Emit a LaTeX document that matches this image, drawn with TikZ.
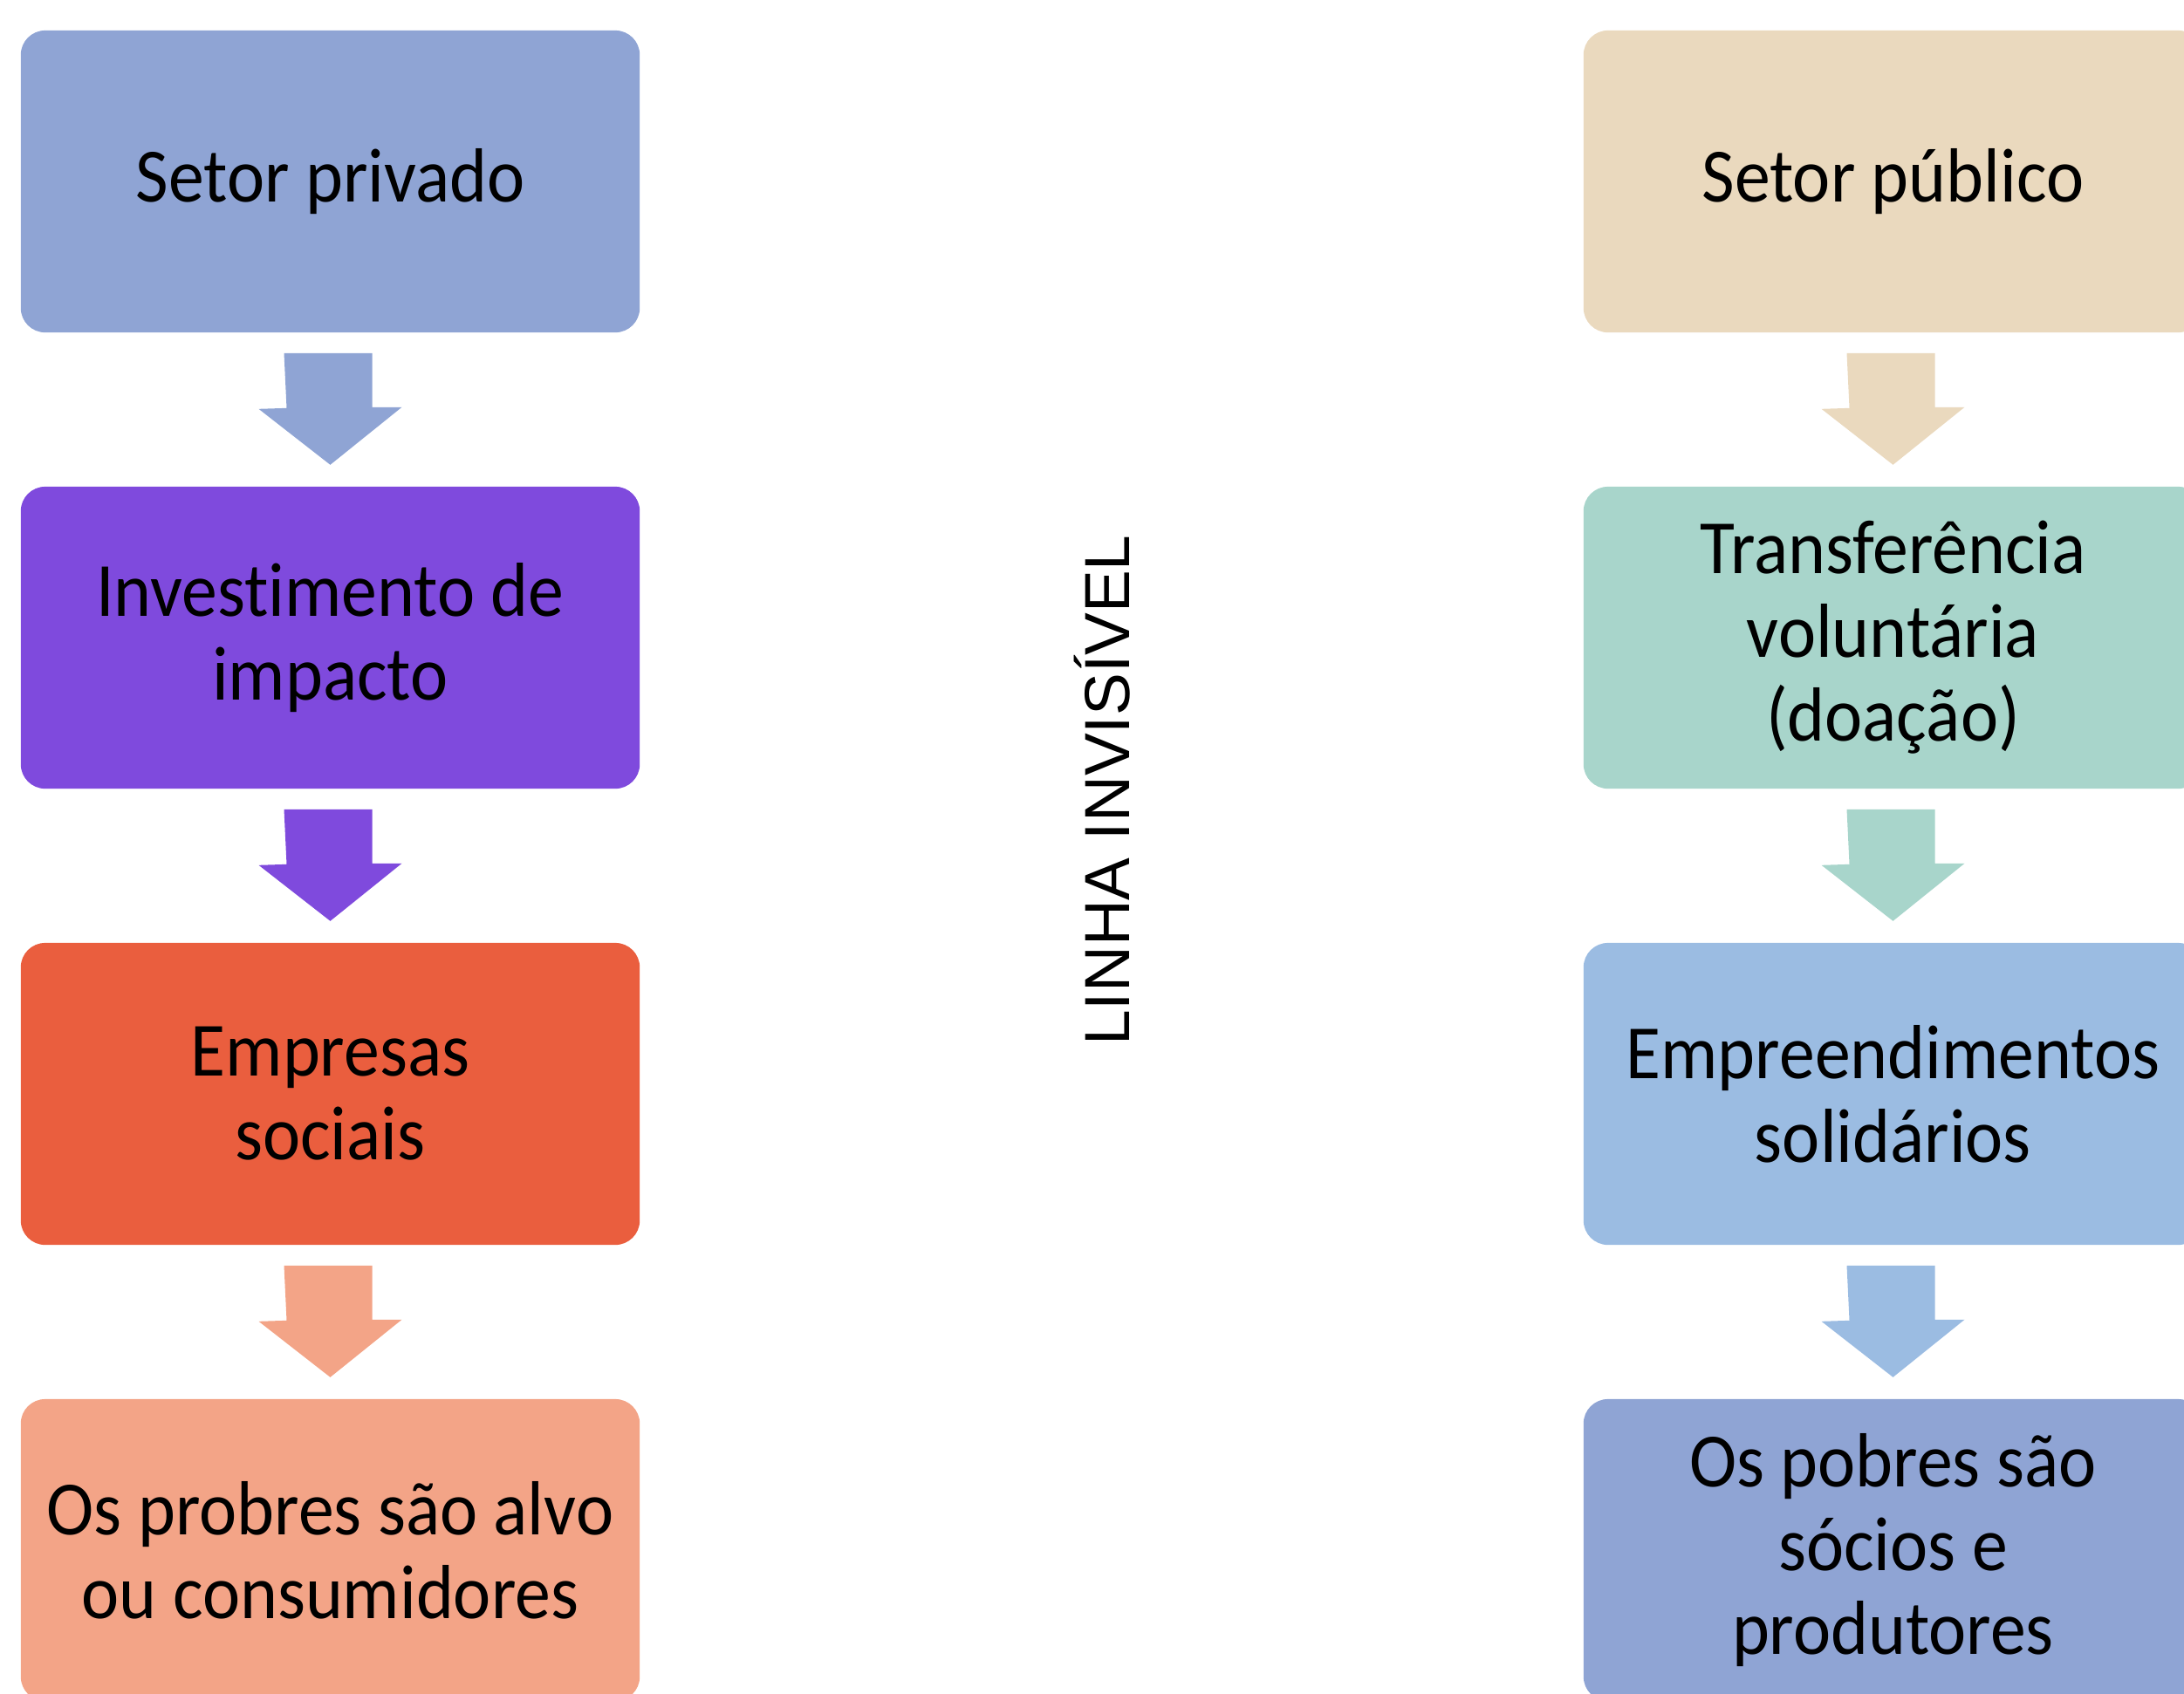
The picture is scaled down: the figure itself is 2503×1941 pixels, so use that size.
\documentclass[tikz,border=0pt]{standalone}
\usepackage{fontspec}
\setmainfont{Carlito}[FakeStretch=0.93,Ligatures={NoCommon,NoContextual,NoRare}]
\newfontfamily\linhafont{Liberation Sans}
\usepackage{tikz}
\definecolor{privcol}{RGB}{143,164,212}
\definecolor{impcol}{RGB}{127,74,221}
\definecolor{empcol}{RGB}{234,94,62}
\definecolor{alvocol}{RGB}{243,164,135}
\definecolor{pubcol}{RGB}{234,217,190}
\definecolor{transcol}{RGB}{168,213,203}
\definecolor{solcol}{RGB}{155,188,226}
\tikzset{box/.style={rectangle,rounded corners=0.28cm,minimum width=7.09cm,minimum height=3.46cm,
        inner sep=0pt,align=center,font=\fontsize{25}{27.3}\selectfont}}
\newcommand{\seta}[2]{\fill[#2,shift={(#1.south)}] (-53,23) -- (-50,86) -- (-82,87) -- (0,151)
        -- (82,85) -- (48,85) -- (48,23) -- cycle;}

\begin{document}
\begin{tikzpicture}[x=0.01cm,y=-0.01cm]
  \useasboundingbox (0,0) rectangle (2503,1941);
  \clip (0,0) rectangle (2503,1941);
  \node[box,fill=privcol] (privado) at (378.5,208) {Setor privado};
  \node[box,fill=impcol] (impacto) at (378.5,731) {Investimento de\\impacto};
  \node[box,fill=empcol] (empresas) at (378.5,1254) {Empresas\\sociais};
  \node[box,fill=alvocol] (alvo) at (378.5,1777) {Os probres são alvo\\ou consumidores};
  \seta{privado}{privcol}
  \seta{impacto}{impcol}
  \seta{empresas}{alvocol}
  \node[box,fill=pubcol] (publico) at (2169.5,208) {Setor público};
  \node[box,fill=transcol] (transferencia) at (2169.5,731) {Transferência\\voluntária\\(doação)};
  \node[box,fill=solcol] (empreend) at (2169.5,1254) {Empreendimentos\\solidários};
  \node[box,fill=privcol] (socios) at (2169.5,1777) {Os pobres são\\sócios e\\produtores};
  \seta{publico}{pubcol}
  \seta{transferencia}{transcol}
  \seta{empreend}{solcol}
  \node[rotate=90,font=\linhafont\fontsize{20.8}{25}\selectfont] (linha) at (1263,906) {LINHA INVISÍVEL};
\end{tikzpicture}
\end{document}
